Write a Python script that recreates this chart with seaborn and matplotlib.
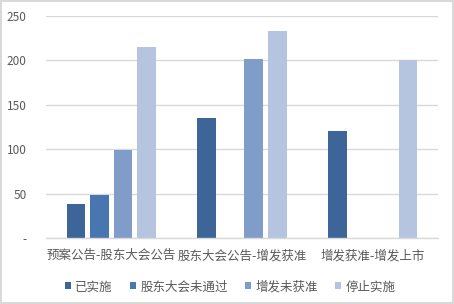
import matplotlib
matplotlib.use("Agg")
import matplotlib.pyplot as plt
import seaborn as sns
import pandas as pd

categories = ["预案公告-股东大会公告", "股东大会公告-增发获准", "增发获准-增发上市"]
series = ["已实施", "股东大会未通过", "增发未获准", "停止实施"]
v_done = [38, 135, 121]
v_meeting_fail = [49, 0, 0]
v_not_approved = [99, 202, 0]
v_stopped = [215, 233, 201]
yticks = [0, 50, 100, 150, 200, 250]
ytick_labels = ["-", "50", "100", "150", "200", "250"]
colors = ["#3d6597", "#4776b0", "#809dc9", "#b5c4df"]

rows = []
for s, vals in zip(series, [v_done, v_meeting_fail, v_not_approved, v_stopped]):
    for c, v in zip(categories, vals):
        rows.append({"cat": c, "series": s, "value": v})
df = pd.DataFrame(rows)

sns.set_theme(style="white")
plt.rcParams['font.family'] = ['Noto Sans CJK SC', 'DejaVu Sans']

fig = plt.figure(figsize=(4.54, 3.04), dpi=100)
fig.patch.set_edgecolor("#d9d9d9")
fig.patch.set_linewidth(1.5)
ax = fig.add_axes([0.101, 0.217, 0.864, 0.730])

sns.barplot(data=df, x="cat", y="value", hue="series", hue_order=series,
            palette=colors, saturation=1, width=0.72, gap=0.21, ax=ax,
            linewidth=0, legend=True)

ax.set_ylim(0, 250)
ax.set_yticks(yticks)
ax.set_yticklabels(ytick_labels)
ax.yaxis.grid(True, color="#d9d9d9", linewidth=1)
ax.set_axisbelow(True)
for sp in ["top", "right", "left"]:
    ax.spines[sp].set_visible(False)
ax.spines["bottom"].set_color("#d9d9d9")
ax.spines["bottom"].set_linewidth(1)
ax.set_xlabel("")
ax.set_ylabel("")
ax.tick_params(axis="both", length=0, colors="#595959")
ax.tick_params(axis="x", labelsize=9, pad=8)
ax.tick_params(axis="y", labelsize=8.5, pad=14)

ax.legend(loc="lower center", bbox_to_anchor=(0.47, -0.30), ncol=4, frameon=False,
          fontsize=9, handlelength=0.5, handleheight=0.5, handletextpad=0.3,
          columnspacing=1.4, labelcolor="#595959")

fig.savefig("out.png", dpi=100)
